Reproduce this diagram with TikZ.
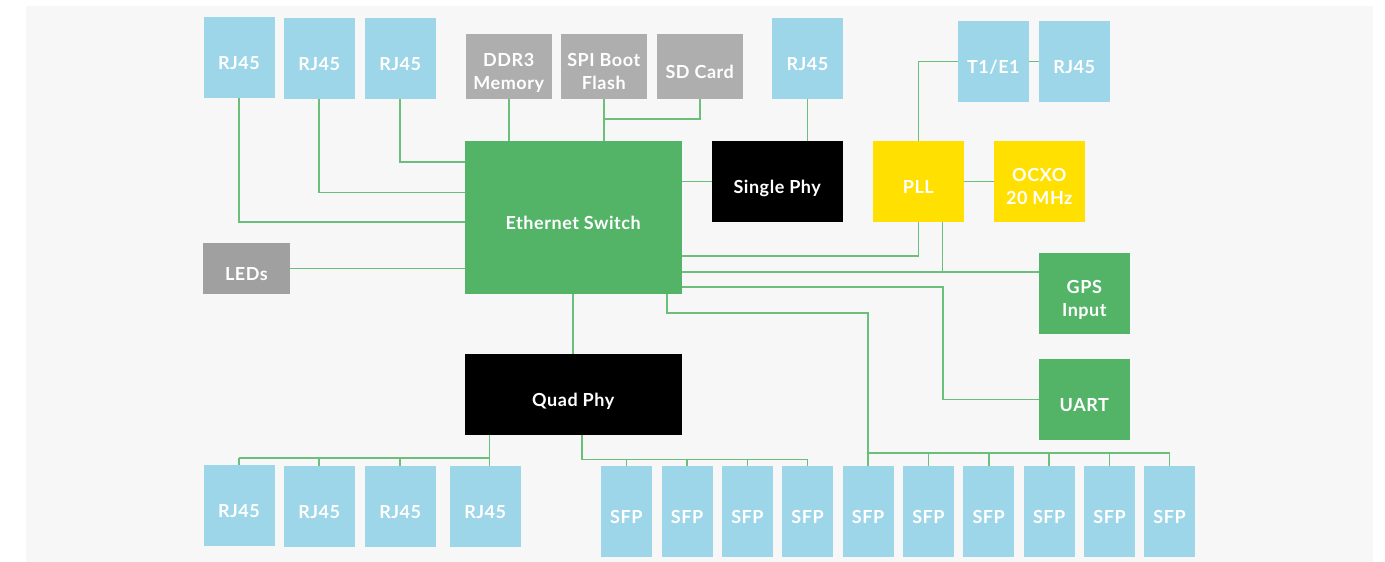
\documentclass[tikz,border=0pt]{standalone}
\usepackage{fontspec}
\setmainfont{Lato}[LetterSpace=3]
\definecolor{bgc}{HTML}{F7F7F7}
\definecolor{blueb}{HTML}{9DD6E8}
\definecolor{grayb}{HTML}{AEAEAE}
\definecolor{grayd}{HTML}{A0A0A0}
\definecolor{greenb}{HTML}{53B468}
\definecolor{yellowb}{HTML}{FFE000}
\definecolor{wirec}{HTML}{6ABF7B}
\newcommand{\lone}[1]{\raisebox{-11.8pt}[0pt][0pt]{#1}}
\newcommand{\ltwo}[2]{\raisebox{-23pt}[0pt][0pt]{\begin{tabular}[b]{@{}c@{}}#1\\#2\end{tabular}}}
\begin{document}
\begin{tikzpicture}[x=1pt,y=-1pt,
  box/.style={draw=none, inner sep=0pt, text=white, font=\fontsize{18}{22.5}\selectfont\bfseries},
  bl/.style={box, fill=blueb},
  gr/.style={box, fill=grayb},
  gd/.style={box, fill=grayd},
  gn/.style={box, fill=greenb},
  yl/.style={box, fill=yellowb},
  bk/.style={box, fill=black},
  rj/.style={bl, minimum width=71pt, minimum height=80.7pt},
  sfp/.style={bl, minimum width=51pt, minimum height=90.7pt},
  wire/.style={draw=wirec, line width=1.6pt}
]
\useasboundingbox (0,0) rectangle (1385,562);
\fill[bgc] (26,6) rectangle (1373,562);

% top row
\node[rj] (rjA1) at (239,57.2) {\lone{RJ45}};
\node[rj] (rjA2) at (319.2,58.3) {\lone{RJ45}};
\node[rj] (rjA3) at (400.2,58.3) {\lone{RJ45}};
\node[gr, minimum width=86pt, minimum height=64.7pt] (ddr) at (508.7,66.3) {\ltwo{DDR3}{Memory}};
\node[gr, minimum width=86pt, minimum height=64.7pt] (spi) at (603.7,66.3) {\ltwo{SPI Boot}{Flash}};
\node[gr, minimum width=86pt, minimum height=64.7pt] (sd) at (699.7,66.3) {\lone{SD Card}};
\node[rj] (rjS) at (807.5,58.3) {\lone{RJ45}};
\node[rj] (t1) at (993.3,61.3) {\lone{T1/E1}};
\node[rj] (rjT) at (1074.2,61.3) {\lone{RJ45}};

% middle
\node[gn, minimum width=217pt, minimum height=152.7pt] (sw) at (573.2,217.3) {\lone{Ethernet Switch}};
\node[bk, minimum width=131pt, minimum height=80.7pt] (sphy) at (777.2,181.3) {\lone{Single Phy}};
\node[yl, minimum width=90.7pt, minimum height=80.7pt] (pll) at (918.3,181.3) {\lone{PLL}};
\node[yl, minimum width=90.7pt, minimum height=80.7pt] (ocxo) at (1039.3,181.3) {\ltwo{OCXO}{20 MHz}};
\node[gd, minimum width=86.4pt, minimum height=50.7pt] (leds) at (246.5,268.3) {\lone{LEDs}};
\node[gn, minimum width=90.7pt, minimum height=80.7pt] (gps) at (1084.3,293.3) {\ltwo{GPS}{Input}};
\node[gn, minimum width=90.7pt, minimum height=80.7pt] (uart) at (1084.3,399.3) {\lone{UART}};
\node[bk, minimum width=217pt, minimum height=80.4pt] (quad) at (573.2,394.5) {\lone{Quad Phy}};

% bottom row
\node[rj] (rjB1) at (239,505.3) {\lone{RJ45}};
\node[rj] (rjB2) at (319.2,506.3) {\lone{RJ45}};
\node[rj] (rjB3) at (400.2,506.3) {\lone{RJ45}};
\node[rj] (rjB4) at (485.2,506.3) {\lone{RJ45}};
\foreach \i/\xx in {1/626.3,2/687,3/747.4,4/807.5,5/868,6/928.4,7/988.7,8/1049.2,9/1109.5,10/1169.5}
  \node[sfp] (sfp\i) at (\xx,511.3) {\lone{SFP}};

% bend coordinates
\coordinate (yA1) at (0,221.7);
\coordinate (yA2) at (0,192.3);
\coordinate (yA3) at (0,162);
\coordinate (ySD) at (0,119);
\coordinate (yP1) at (0,256);
\coordinate (yG) at (0,272);
\coordinate (yU) at (0,286.7);
\coordinate (xU) at (942.7,0);
\coordinate (xP2) at (942.3,0);
\coordinate (xS) at (666.7,0);
\coordinate (yS) at (0,312.7);
\coordinate (yB2) at (0,453);
\coordinate (xQ1) at (489.3,0);
\coordinate (yB0) at (0,458);
\coordinate (xQ2) at (581.7,0);
\coordinate (yB1) at (0,459.3);

% wires top
\draw[wire] (rjA1.south) |- (yA1 -| sw.west);
\draw[wire] (rjA2.south) |- (yA2 -| sw.west);
\draw[wire] (rjA3.south) |- (yA3 -| sw.west);
\draw[wire] (ddr.south) -- (ddr.south |- sw.north);
\draw[wire] (spi.south) -- (spi.south |- sw.north);
\draw[wire] (sd.south) |- (ySD -| spi.south);
\draw[wire] (rjS.south) -- (rjS.south |- sphy.north);
\draw[wire] (sw.east |- sphy.west) -- (sphy.west);
\draw[wire] (pll.north) |- (t1.west);
\draw[wire] (t1.east) -- (rjT.west);
\draw[wire] (pll.east) -- (ocxo.west);
\draw[wire] (leds.east) -- (leds.east -| sw.west);
% wires right
\draw[wire] (pll.south) |- (yP1 -| sw.east);
\draw[wire] (yG -| sw.east) -- (yG -| gps.west);
\draw[wire] (xP2 |- pll.south) -- (xP2 |- yG);
\draw[wire] (yU -| sw.east) -| (xU |- uart.west) -- (uart.west);
% wires bottom
\draw[wire] (sw.south) -- (quad.north);
\draw[wire] (xS |- sw.south) |- (yS -| sfp5.north) -- (sfp5.north);
\draw[wire] (yB2 -| sfp5.north) -- (yB2 -| sfp10.north);
\foreach \i in {6,...,10} \draw[wire] (yB2 -| sfp\i.north) -- (sfp\i.north);
\draw[wire] (xQ1 |- quad.south) -- (xQ1 |- rjB4.north);
\draw[wire] (yB0 -| rjB1.north) -- (yB0 -| xQ1);
\foreach \i in {1,2,3} \draw[wire] (yB0 -| rjB\i.north) -- (rjB\i.north);
\draw[wire] (xQ2 |- quad.south) |- (yB1 -| sfp4.north) -- (sfp4.north);
\foreach \i in {1,2,3} \draw[wire] (yB1 -| sfp\i.north) -- (sfp\i.north);
\end{tikzpicture}
\end{document}
